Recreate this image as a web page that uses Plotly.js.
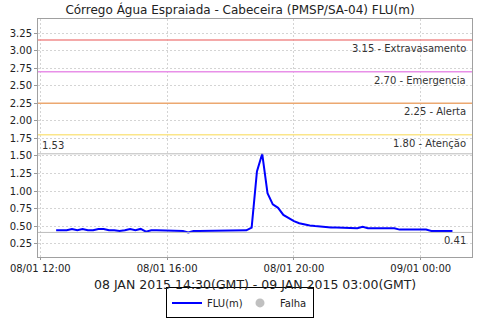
<!DOCTYPE html>
<html>
<head>
<meta charset="utf-8">
<script src="https://cdn.plot.ly/plotly-3.0.1.min.js"></script>
<style>html,body{margin:0;padding:0;background:#fff;}#chart{width:480px;height:320px;}</style>
</head>
<body>
<div id="chart"></div>
<script>
const times = [
 '2015-01-08 12:30','2015-01-08 12:40','2015-01-08 12:50','2015-01-08 13:00','2015-01-08 13:10','2015-01-08 13:20',
 '2015-01-08 13:30','2015-01-08 13:40','2015-01-08 13:50','2015-01-08 14:00','2015-01-08 14:10','2015-01-08 14:20',
 '2015-01-08 14:30','2015-01-08 14:40','2015-01-08 14:50','2015-01-08 15:00','2015-01-08 15:10','2015-01-08 15:20',
 '2015-01-08 15:30','2015-01-08 15:40','2015-01-08 15:50','2015-01-08 16:00','2015-01-08 16:10','2015-01-08 16:20',
 '2015-01-08 16:30','2015-01-08 16:40','2015-01-08 16:50','2015-01-08 17:00','2015-01-08 17:10','2015-01-08 17:20',
 '2015-01-08 17:30','2015-01-08 17:40','2015-01-08 17:50','2015-01-08 18:00','2015-01-08 18:10','2015-01-08 18:20',
 '2015-01-08 18:30','2015-01-08 18:40','2015-01-08 18:50','2015-01-08 19:00','2015-01-08 19:10','2015-01-08 19:20',
 '2015-01-08 19:30','2015-01-08 19:40','2015-01-08 19:50','2015-01-08 20:00','2015-01-08 20:10','2015-01-08 20:20',
 '2015-01-08 20:30','2015-01-08 20:40','2015-01-08 20:50','2015-01-08 21:00','2015-01-08 21:10','2015-01-08 21:20',
 '2015-01-08 21:30','2015-01-08 21:40','2015-01-08 21:50','2015-01-08 22:00','2015-01-08 22:10','2015-01-08 22:20',
 '2015-01-08 22:30','2015-01-08 22:40','2015-01-08 22:50','2015-01-08 23:00','2015-01-08 23:10','2015-01-08 23:20',
 '2015-01-08 23:30','2015-01-08 23:40','2015-01-08 23:50','2015-01-09 00:00','2015-01-09 00:10','2015-01-09 00:20',
 '2015-01-09 00:30','2015-01-09 00:40','2015-01-09 00:50','2015-01-09 01:00'
];
const flu = [
 0.44,0.44,0.44,0.46,0.44,0.46,
 0.44,0.44,0.46,0.46,0.44,0.44,
 0.43,0.44,0.46,0.44,0.46,0.42,
 0.44,0.44,0.44,0.44,0.44,0.43,
 0.43,0.41,0.43,0.43,0.43,0.43,
 0.43,0.43,0.43,0.43,0.43,0.43,
 0.44,0.48,1.28,1.53,0.97,0.81,
 0.76,0.66,0.61,0.57,0.54,0.52,
 0.51,0.50,0.49,0.49,0.48,0.48,
 0.48,0.48,0.47,0.47,0.49,0.47,
 0.47,0.47,0.47,0.47,0.47,0.45,
 0.45,0.45,0.45,0.45,0.45,0.43,
 0.43,0.43,0.43,0.43
];
const thresholdValues = [3.15, 2.70, 2.25, 1.80];
const thresholdLabels = ['3.15 - Extravasamento', '2.70 - Emergencia', '2.25 - Alerta', '1.80 - Atenção'];
const thresholdColors = ['#f08c8c', '#e890e8', '#eca870', '#fbe68a'];
const maxValue = 1.53, minValue = 0.41;
const yTicks = [0.25,0.5,0.75,1.0,1.25,1.5,1.75,2.0,2.25,2.5,2.75,3.0,3.25];
const xTickVals = ['2015-01-08 12:00','2015-01-08 16:00','2015-01-08 20:00','2015-01-09 00:00'];
const xTickText = ['08/01 12:00','08/01 16:00','08/01 20:00','09/01 00:00'];
const xTitle = '08 JAN 2015 14:30(GMT) - 09 JAN 2015 03:00(GMT)';

const font = 'DejaVu Sans, sans-serif';
const shapes = [];
const annotations = [];
thresholdValues.forEach((v, i) => {
  shapes.push({type:'line', xref:'paper', x0:0, x1:1, yref:'y', y0:v, y1:v, line:{color:thresholdColors[i], width:1.5}});
  annotations.push({xref:'paper', x:0.99, yref:'y', y:v, text:thresholdLabels[i], showarrow:false, xanchor:'right', yanchor:'top', yshift:-1, font:{family:font, size:10, color:'#333'}});
});
shapes.push({type:'line', xref:'paper', x0:0, x1:1, yref:'y', y0:maxValue, y1:maxValue, line:{color:'#bbbbbb', width:1}});
shapes.push({type:'line', xref:'paper', x0:0, x1:1, yref:'y', y0:minValue, y1:minValue, line:{color:'#bbbbbb', width:1}});
annotations.push({xref:'paper', x:0.005, yref:'y', y:maxValue, text:maxValue.toFixed(2), showarrow:false, xanchor:'left', yanchor:'bottom', yshift:1, font:{family:font, size:10, color:'#333'}});
annotations.push({xref:'paper', x:0.99, yref:'y', y:minValue, text:minValue.toFixed(2), showarrow:false, xanchor:'right', yanchor:'top', yshift:-1, font:{family:font, size:10, color:'#333'}});
annotations.push({xref:'paper', x:0.5, yref:'paper', y:0, yshift:-27, text:xTitle, showarrow:false, xanchor:'center', yanchor:'middle', font:{family:font, size:12.5, color:'#222'}});

const data = [
  {x: times, y: flu, type:'scatter', mode:'lines', name:'FLU(m)', line:{color:'#0000ff', width:2}},
  {x: [null], y: [null], type:'scatter', mode:'markers', name:'Falha', marker:{color:'#c0c0c0', size:9, symbol:'circle'}}
];

const layout = {
  width:480, height:320,
  margin:{l:38, r:8, t:19, b:63},
  paper_bgcolor:'#fff', plot_bgcolor:'#fff',
  font:{family:font, size:10, color:'#333'},
  title:{text:'Córrego Água Espraiada - Cabeceira (PMSP/SA-04) FLU(m)', font:{family:font, size:12, color:'#222'}, x:0.5, xanchor:'center', y:0.97, yanchor:'middle'},
  xaxis:{
    type:'date', range:['2015-01-08 11:55:40','2015-01-09 01:37'],
    tickvals:xTickVals, ticktext:xTickText,
    ticks:'outside', ticklen:2, tickcolor:'#999',
    showgrid:true, gridcolor:'#d4d4d4', griddash:'2px,2px', gridwidth:1,
    showline:true, linecolor:'#a0a0a0', linewidth:1, mirror:true,
    zeroline:false, automargin:false,
    tickfont:{family:font, size:10, color:'#222'}
  },
  yaxis:{
    range:[0.06, 3.45], tickvals:yTicks, tickformat:'.2f',
    ticks:'outside', ticklen:3, tickcolor:'#999',
    showgrid:true, gridcolor:'#d4d4d4', griddash:'2px,2px', gridwidth:1,
    showline:true, linecolor:'#a0a0a0', linewidth:1, mirror:true,
    zeroline:false, automargin:false,
    tickfont:{family:font, size:10, color:'#222'}
  },
  showlegend:true,
  legend:{orientation:'h', xref:'container', yref:'container', x:0.5, xanchor:'center', y:0.005, yanchor:'bottom', bordercolor:'#000', borderwidth:1, bgcolor:'#fff', font:{family:font, size:10, color:'#222'}, itemwidth:30, entrywidth:28, tracegroupgap:0},
  shapes:shapes, annotations:annotations
};
Plotly.newPlot('chart', data, layout, {staticPlot:true, displayModeBar:false});
</script>
</body>
</html>
